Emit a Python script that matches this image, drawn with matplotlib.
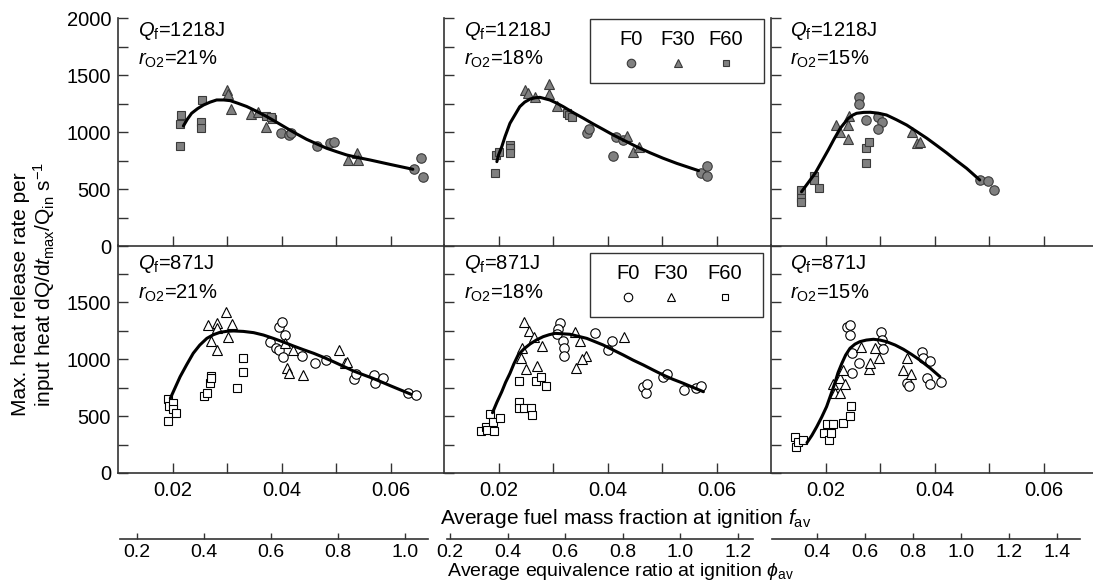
#!/usr/bin/env python3
"""Max. heat release rate per input heat vs. fuel mass fraction, 2x3 panels."""

import matplotlib
matplotlib.use("Agg")
import matplotlib.pyplot as plt
from matplotlib.patches import Rectangle

plt.rcParams["font.family"] = ["Liberation Sans", "DejaVu Sans"]
plt.rcParams["mathtext.fontset"] = "custom"
plt.rcParams["mathtext.rm"] = "Liberation Sans"
plt.rcParams["mathtext.it"] = "Liberation Sans:italic"
plt.rcParams["mathtext.bf"] = "Liberation Sans:bold"

# ---- data: (f_av, dQ/dt_max/Q_in) ----
# Q_f = 1218 J
hi21_f0 = [(0.0399, 991), (0.0414, 974), (0.0418, 992), (0.0465, 877), (0.0489, 904),
           (0.0497, 912), (0.0643, 675), (0.0656, 772), (0.0660, 605)]
hi21_f30 = [(0.0300, 1368), (0.0302, 1333), (0.0307, 1202), (0.0344, 1158), (0.0357, 1175),
            (0.0372, 1044), (0.0522, 754), (0.0538, 816), (0.0541, 754)]
hi21_f60 = [(0.0214, 1070), (0.0216, 1149), (0.0214, 877), (0.0254, 1281), (0.0252, 1088),
            (0.0252, 1035), (0.0372, 1140), (0.0383, 1114), (0.0380, 1130)]
hi21_fit = [(0.0220, 1053), (0.0227, 1110), (0.0235, 1164), (0.0246, 1205), (0.0257, 1237),
            (0.0269, 1262), (0.0281, 1281), (0.0294, 1281), (0.0306, 1275), (0.0320, 1252),
            (0.0336, 1224), (0.0355, 1180), (0.0373, 1135), (0.0392, 1083), (0.0410, 1032),
            (0.0428, 983), (0.0446, 936), (0.0465, 895), (0.0483, 857), (0.0502, 826),
            (0.0520, 798), (0.0541, 775), (0.0562, 755), (0.0600, 715), (0.0641, 673)]

hi18_f0 = [(0.0362, 994), (0.0366, 1023), (0.0411, 789), (0.0415, 959), (0.0428, 930),
           (0.0572, 638), (0.0583, 705), (0.0583, 617)]
hi18_f30 = [(0.0249, 1368), (0.0255, 1345), (0.0267, 1304), (0.0293, 1421), (0.0293, 1333),
            (0.0308, 1228), (0.0436, 965), (0.0447, 827), (0.0458, 871)]
hi18_f60 = [(0.0194, 638), (0.0195, 798), (0.0200, 827), (0.0221, 886), (0.0222, 857),
            (0.0222, 813), (0.0325, 1169), (0.0330, 1149), (0.0334, 1134)]
hi18_fit = [(0.0197, 740), (0.0200, 798), (0.0206, 871), (0.0212, 960), (0.0221, 1076),
            (0.0230, 1149), (0.0239, 1222), (0.0248, 1262), (0.0258, 1289), (0.0267, 1300),
            (0.0276, 1304), (0.0294, 1281), (0.0306, 1255), (0.0319, 1222), (0.0337, 1170),
            (0.0356, 1120), (0.0374, 1070), (0.0392, 1023), (0.0410, 975), (0.0429, 930),
            (0.0453, 872), (0.0478, 818), (0.0502, 770), (0.0527, 725), (0.0567, 661)]

hi15_f0 = [(0.0262, 1304), (0.0262, 1245), (0.0274, 1105), (0.0297, 1129), (0.0303, 1090),
           (0.0297, 1026), (0.0483, 579), (0.0499, 570), (0.0509, 491)]
hi15_f30 = [(0.0219, 1061), (0.0227, 1003), (0.0242, 1061), (0.0244, 1140), (0.0242, 936),
            (0.0359, 1003), (0.0367, 900), (0.0373, 915)]
hi15_f60 = [(0.0155, 491), (0.0155, 418), (0.0155, 389), (0.0179, 614), (0.0179, 579),
            (0.0188, 512), (0.0274, 862), (0.0279, 915), (0.0274, 725)]
hi15_fit = [(0.0156, 476), (0.0181, 638), (0.0205, 842), (0.0216, 940), (0.0227, 1032),
            (0.0235, 1080), (0.0242, 1120), (0.0250, 1148), (0.0257, 1164), (0.0270, 1172),
            (0.0282, 1173), (0.0297, 1165), (0.0312, 1149), (0.0330, 1108), (0.0349, 1061),
            (0.0367, 1005), (0.0386, 945), (0.0404, 882), (0.0422, 818), (0.0440, 750),
            (0.0459, 681), (0.0483, 579)]

# Q_f = 871 J
lo21_f0 = [(0.0378, 1152), (0.0390, 1094), (0.0396, 1079), (0.0396, 1283), (0.0401, 1327),
           (0.0407, 1211), (0.0402, 1020), (0.0438, 1026), (0.0461, 962), (0.0481, 991),
           (0.0533, 822), (0.0537, 868), (0.0569, 860), (0.0572, 786), (0.0586, 836),
           (0.0633, 699), (0.0647, 684)]
lo21_f30 = [(0.0266, 1298), (0.0271, 1161), (0.0282, 1313), (0.0282, 1269), (0.0282, 1079),
            (0.0298, 1415), (0.0301, 1196), (0.0309, 1307), (0.0407, 1137), (0.0422, 1079),
            (0.0411, 924), (0.0414, 874), (0.0439, 860), (0.0506, 1079), (0.0517, 968),
            (0.0521, 977)]
lo21_f60 = [(0.0192, 646), (0.0194, 591), (0.0201, 611), (0.0200, 559), (0.0207, 529),
            (0.0192, 456), (0.0258, 675), (0.0263, 705), (0.0269, 792), (0.0270, 854),
            (0.0271, 830), (0.0319, 749), (0.0330, 1012), (0.0330, 889)]
lo21_fit = [(0.0196, 655), (0.0205, 750), (0.0214, 845), (0.0226, 950), (0.0238, 1050),
            (0.0250, 1122), (0.0263, 1181), (0.0275, 1213), (0.0287, 1234), (0.0300, 1243),
            (0.0312, 1246), (0.0330, 1242), (0.0349, 1231), (0.0367, 1210), (0.0385, 1181),
            (0.0404, 1148), (0.0422, 1114), (0.0440, 1082), (0.0459, 1050), (0.0477, 1015),
            (0.0495, 977), (0.0514, 935), (0.0532, 895), (0.0550, 862), (0.0568, 830),
            (0.0600, 765), (0.0638, 690)]

lo18_f0 = [(0.0312, 1313), (0.0309, 1260), (0.0307, 1219), (0.0318, 1161), (0.0320, 1094),
           (0.0320, 1026), (0.0377, 1225), (0.0401, 1079), (0.0409, 1158), (0.0465, 757),
           (0.0471, 705), (0.0472, 781), (0.0502, 839), (0.0509, 866), (0.0541, 728),
           (0.0562, 743), (0.0572, 766)]
lo18_f30 = [(0.0247, 1327), (0.0256, 1246), (0.0243, 1094), (0.0241, 1006), (0.0251, 912),
            (0.0266, 1196), (0.0270, 939), (0.0280, 1114), (0.0340, 1240), (0.0350, 1161),
            (0.0361, 1026), (0.0353, 997), (0.0343, 918), (0.0430, 1190)]
lo18_f60 = [(0.0168, 371), (0.0177, 401), (0.0179, 377), (0.0184, 518), (0.0190, 450),
            (0.0192, 368), (0.0203, 480), (0.0238, 625), (0.0238, 567), (0.0247, 567),
            (0.0260, 573), (0.0261, 509), (0.0238, 810), (0.0268, 810), (0.0278, 845),
            (0.0287, 763)]
lo18_fit = [(0.0189, 529), (0.0197, 620), (0.0206, 713), (0.0213, 795), (0.0221, 874),
            (0.0228, 955), (0.0236, 1035), (0.0247, 1090), (0.0258, 1132), (0.0270, 1168),
            (0.0282, 1196), (0.0293, 1213), (0.0304, 1225), (0.0331, 1217), (0.0362, 1181),
            (0.0392, 1123), (0.0410, 1080), (0.0429, 1035), (0.0447, 990), (0.0466, 947),
            (0.0484, 903), (0.0502, 860), (0.0520, 822), (0.0539, 787), (0.0576, 713)]

lo15_f0 = [(0.0239, 1278), (0.0245, 1298), (0.0245, 1211), (0.0248, 1050), (0.0248, 874),
           (0.0262, 962), (0.0301, 1240), (0.0303, 1167), (0.0305, 1085), (0.0349, 792),
           (0.0353, 763), (0.0377, 1064), (0.0378, 1006), (0.0392, 985), (0.0387, 830),
           (0.0391, 781), (0.0412, 801)]
lo15_f30 = [(0.0213, 781), (0.0217, 699), (0.0227, 699), (0.0227, 830), (0.0233, 903),
            (0.0236, 781), (0.0266, 1108), (0.0279, 909), (0.0282, 962), (0.0290, 1094),
            (0.0298, 1012), (0.0350, 1006), (0.0343, 903), (0.0356, 868)]
lo15_f60 = [(0.0144, 319), (0.0146, 231), (0.0150, 275), (0.0158, 289), (0.0197, 354),
            (0.0203, 430), (0.0207, 289), (0.0210, 348), (0.0213, 427), (0.0233, 442),
            (0.0245, 503), (0.0247, 591)]
lo15_fit = [(0.0166, 266), (0.0175, 330), (0.0184, 406), (0.0193, 490), (0.0202, 582),
            (0.0210, 690), (0.0217, 787), (0.0223, 880), (0.0230, 962), (0.0237, 1035),
            (0.0245, 1094), (0.0254, 1130), (0.0263, 1152), (0.0275, 1166), (0.0288, 1173),
            (0.0300, 1166), (0.0312, 1152), (0.0328, 1122), (0.0343, 1085), (0.0358, 1040),
            (0.0373, 991), (0.0392, 920), (0.0410, 845)]

heat_labels = ["1218J", "1218J", "1218J", "871J", "871J", "871J"]
o2_labels = ["21%", "18%", "15%", "21%", "18%", "15%"]
series_names = ["F0", "F30", "F60"]
fuel_ticks = [0.02, 0.04, 0.06]
phi_ticks = [[0.2, 0.4, 0.6, 0.8, 1.0],
             [0.2, 0.4, 0.6, 0.8, 1.0, 1.2],
             [0.4, 0.6, 0.8, 1.0, 1.2, 1.4]]

panels = [
    (hi21_f0, hi21_f30, hi21_f60, hi21_fit),
    (hi18_f0, hi18_f30, hi18_f60, hi18_fit),
    (hi15_f0, hi15_f30, hi15_f60, hi15_fit),
    (lo21_f0, lo21_f30, lo21_f60, lo21_fit),
    (lo18_f0, lo18_f30, lo18_f60, lo18_fit),
    (lo15_f0, lo15_f30, lo15_f60, lo15_fit),
]

# ---- layout in pixels ----
W, H = 1093, 585
col_left = [118, 444, 771]
col_width = [326, 327, 322]
row_top = [18, 245]
row_h = 228
xpx = 5450.0  # px per unit of f_av

phi_left = [120, 447, 772]
phi_right = [428, 753, 1080]
phi_lims = [(0.149, 1.069), (0.1896, 1.252), (0.2125, 1.496)]
phi_line_y = 539

FS = 14.5
SPINE = "#333333"
markers = ["o", "^", "s"]
msizes = [6.8, 6.8, 5.2]

fig = plt.figure(figsize=(W / 100, H / 100), dpi=100)


def frac_box(left, top, width, height):
    return [left / W, 1 - (top + height) / H, width / W, height / H]


for idx, (f0, f30, f60, fit) in enumerate(panels):
    row, col = divmod(idx, 3)
    ax = fig.add_axes(frac_box(col_left[col], row_top[row], col_width[col], row_h))
    filled = row == 0
    for pts, mk, ms in zip((f0, f30, f60), markers, msizes):
        ax.plot([p[0] for p in pts], [p[1] for p in pts], mk, ms=ms,
                mfc="#808080" if filled else "white",
                mec="#3a3a3a" if filled else "black", mew=0.8, zorder=3)
    ax.plot([p[0] for p in fit], [p[1] for p in fit], "-", color="black", lw=2.2,
            solid_capstyle="round", solid_joinstyle="round", zorder=4)

    ax.set_xlim(0.01, 0.01 + col_width[col] / xpx)
    ax.set_ylim(0, 2000)
    for s in ("top", "right"):
        ax.spines[s].set_visible(False)
    for s in ("left", "bottom"):
        ax.spines[s].set_color(SPINE)
        ax.spines[s].set_linewidth(1.2)

    ax.set_xticks(fuel_ticks)
    ax.set_xticks([0.03, 0.05], minor=True)
    if row == 0:
        ax.set_yticks([0, 500, 1000, 1500, 2000])
        ax.set_yticks([250, 750, 1250, 1750], minor=True)
        ax.set_xticklabels([])
    else:
        ax.set_yticks([0, 500, 1000, 1500])
        ax.set_yticks([250, 750, 1250, 1750], minor=True)
        ax.set_xticklabels([f"{t:.2f}" for t in fuel_ticks])
    if col != 0:
        ax.set_yticklabels([])
    ax.tick_params(which="both", direction="in", length=7, width=1, color=SPINE,
                   labelsize=FS, pad=5)
    ax.tick_params(axis="x", which="major", pad=6)
    ax.patch.set_visible(False)

    ty = 0.945 if row == 0 else 0.915
    ax.text(0.06, ty, r"$Q_{\rm f}$=" + heat_labels[idx], transform=ax.transAxes,
            fontsize=FS, va="center", ha="left")
    ax.text(0.06, ty - 0.125, r"$r_{\rm O2}$=" + o2_labels[idx], transform=ax.transAxes,
            fontsize=FS, va="center", ha="left")

    # hand-made legend in the middle column
    if col == 1:
        if row == 0:
            bx0, bx1, by0, by1 = 0.448, 0.979, 0.715, 0.996
            txt_y, mk_y = 0.904, 0.803
            txt_x = [0.571, 0.715, 0.862]
        else:
            bx0, bx1, by0, by1 = 0.445, 0.975, 0.684, 0.965
            txt_y, mk_y = 0.877, 0.772
            txt_x = [0.564, 0.693, 0.859]
        ax.add_patch(Rectangle((bx0, by0), bx1 - bx0, by1 - by0, transform=ax.transAxes,
                               fill=True, facecolor="white", edgecolor="#333333",
                               lw=1.0, zorder=5, clip_on=False))
        for name, tx, mk, ms in zip(series_names, txt_x, markers, msizes):
            ax.text(tx, txt_y, name, transform=ax.transAxes, fontsize=FS,
                    ha="center", va="center", zorder=6)
            ax.plot([tx], [mk_y], mk, ms=ms * 0.9, transform=ax.transAxes,
                    mfc="#808080" if filled else "white",
                    mec="#3a3a3a" if filled else "black", mew=0.8, zorder=6,
                    clip_on=False)

# equivalence-ratio scales under the bottom row
for col in range(3):
    pax = fig.add_axes([phi_left[col] / W, 1 - phi_line_y / H,
                        (phi_right[col] - phi_left[col]) / W, 0.0001])
    pax.set_xlim(*phi_lims[col])
    pax.set_yticks([])
    for s in ("top", "right", "left"):
        pax.spines[s].set_visible(False)
    pax.spines["bottom"].set_color(SPINE)
    pax.spines["bottom"].set_linewidth(1.2)
    pax.set_xticks(phi_ticks[col])
    pax.set_xticklabels([f"{t:.1f}" for t in phi_ticks[col]])
    pax.tick_params(axis="x", direction="in", length=4.5, width=1, color=SPINE,
                    labelsize=14, pad=3.5)
    pax.patch.set_visible(False)

fig.text(626 / W, 1 - 518 / H, r"Average fuel mass fraction at ignition $f_{\rm av}$",
         fontsize=15, ha="center", va="center")
fig.text(620 / W, 1 - 572 / H, r"Average equivalence ratio at ignition $\phi_{\rm av}$",
         fontsize=14, ha="center", va="center")
fig.text(21 / W, 1 - 294 / H, "Max. heat release rate per", rotation=90,
         fontsize=15, ha="center", va="center")
fig.text(44 / W, 1 - 284 / H, r"input heat dQ/d$t_{\rm max}$/Q$_{\rm in}$ s$^{-1}$",
         rotation=90, fontsize=15, ha="center", va="center")

fig.savefig("out.png", dpi=100)
